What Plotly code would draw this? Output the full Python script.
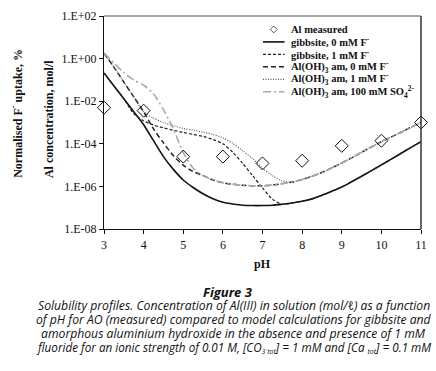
import plotly.graph_objects as go

# ---------------- data ----------------
ph_measured = [3, 4, 5, 6, 7, 8, 9, 10, 11]
al_measured = [5.0e-3, 3.6e-3, 2.5e-5, 2.5e-5, 1.2e-5, 1.6e-5, 8.0e-5, 1.4e-4, 1.0e-3]

ph_model = [3.00, 3.25, 3.50, 3.75, 4.00, 4.25, 4.50, 4.75, 5.00, 5.25, 5.50, 5.75,
            6.00, 6.25, 6.50, 6.75, 7.00, 7.25, 7.50, 7.75, 8.00, 8.25, 8.50, 8.75,
            9.00, 9.25, 9.50, 9.75, 10.00, 10.25, 10.50, 10.75, 11.00]

gibbsite_0mM_F = [2.1e-1, 5.2e-2, 1.3e-2, 3.2e-3, 7.9e-4, 1.4e-4, 2.5e-5, 6.3e-6, 2.0e-6, 8.9e-7,
                  4.5e-7, 2.6e-7, 1.8e-7, 1.5e-7, 1.3e-7, 1.26e-7, 1.26e-7, 1.3e-7, 1.45e-7, 1.66e-7,
                  2.0e-7, 2.6e-7, 3.8e-7, 5.9e-7, 9.3e-7, 1.66e-6, 3.0e-6, 5.5e-6, 1.02e-5, 1.9e-5,
                  3.6e-5, 6.8e-5, 1.26e-4]

gibbsite_1mM_F = [2.1e-1, 5.2e-2, 1.3e-2, 2.6e-3, 1.2e-3, 7.6e-4, 5.6e-4, 4.3e-4, 3.4e-4, 2.75e-4,
                  2.2e-4, 1.6e-4, 1.0e-4, 4.0e-5, 1.2e-5, 3.2e-6, 8.5e-7, 2.5e-7, 1.45e-7, 1.66e-7,
                  2.0e-7, 2.6e-7, 3.8e-7, 5.9e-7, 9.3e-7, 1.66e-6, 3.0e-6, 5.5e-6, 1.02e-5, 1.9e-5,
                  3.6e-5, 6.8e-5, 1.26e-4]

am_0mM_F = [1.8e0, 4.0e-1, 7.9e-2, 1.6e-2, 3.2e-3, 5.0e-4, 1.1e-4, 2.8e-5, 1.0e-5, 5.0e-6,
            3.2e-6, 2.0e-6, 1.5e-6, 1.26e-6, 1.12e-6, 1.07e-6, 1.07e-6, 1.17e-6, 1.35e-6, 1.6e-6,
            2.1e-6, 3.0e-6, 4.5e-6, 7.4e-6, 1.26e-5, 2.2e-5, 4.0e-5, 7.1e-5, 1.26e-4, 2.1e-4,
            3.5e-4, 6.0e-4, 1.0e-3]

am_1mM_F = [1.8e0, 4.0e-1, 7.9e-2, 1.6e-2, 3.2e-3, 1.6e-3, 1.0e-3, 7.1e-4, 5.2e-4, 4.4e-4,
            3.5e-4, 2.75e-4, 1.9e-4, 1.05e-4, 4.7e-5, 2.0e-5, 7.1e-6, 3.2e-6, 1.8e-6, 1.6e-6,
            2.1e-6, 3.0e-6, 4.5e-6, 7.4e-6, 1.26e-5, 2.2e-5, 4.0e-5, 7.1e-5, 1.26e-4, 2.1e-4,
            3.5e-4, 6.0e-4, 1.0e-3]

am_100mM_SO4 = [1.8e0, 6.3e-1, 2.2e-1, 1.0e-1, 5.6e-2, 2.2e-2, 4.0e-3, 5.0e-4, 4.0e-5, 7.1e-6,
                3.2e-6, 2.0e-6, 1.5e-6, 1.26e-6, 1.12e-6, 1.07e-6, 1.07e-6, 1.17e-6, 1.35e-6, 1.6e-6,
                2.1e-6, 3.0e-6, 4.5e-6, 7.4e-6, 1.26e-5, 2.2e-5, 4.0e-5, 7.1e-5, 1.26e-4, 2.1e-4,
                3.5e-4, 6.0e-4, 1.0e-3]

y_tickvals = [1e-8, 1e-6, 1e-4, 1e-2, 1e0, 1e2]
y_ticktext = ["1.E-08", "1.E-06", "1.E-04", "1.E-02", "1.E+00", "1.E+02"]
x_tickvals = [3, 4, 5, 6, 7, 8, 9, 10, 11]

legend_labels = [
    "Al measured",
    "gibbsite, 0 mM F<sup>-</sup>",
    "gibbsite, 1 mM F<sup>-</sup>",
    "Al(OH)<sub>3</sub> am, 0 mM F<sup>-</sup>",
    "Al(OH)<sub>3</sub> am, 1 mM F<sup>-</sup>",
    "Al(OH)<sub>3</sub> am, 100 mM SO<sub>4</sub><sup>2-</sup>",
]

SMALL = '<span style="font-size:7px">'
caption_title = "Figure 3"
caption_lines = [
    "Solubility profiles. Concentration of Al(III) in solution (mol/ℓ) as a function",
    "of pH for AO (measured) compared to model calculations for gibbsite and",
    "amorphous aluminium hydroxide in the absence and presence of 1 mM",
    "fluoride for an ionic strength of 0.01 M, [CO<sub>" + SMALL + "3 tot</span></sub>] = 1 mM "
    "and [Ca <sub>" + SMALL + "tot</span></sub>] = 0.1 mM",
]
caption_sizes = [12.2, 12.2, 12.2, 11.7]

# ---------------- figure ----------------
SERIF = "Liberation Serif"
CAP = "Open Sans"
W, H = 436, 371
L, R, T, B = 104, 427, 12, 229   # plot area in pixels


def px(xp):
    return (xp - L) / (R - L)


def py(yp):
    return (B - yp) / (B - T)


fig = go.Figure()

line_styles = [
    dict(color="#111111", width=1.6, dash="solid"),
    dict(color="#222222", width=1.2, dash="3px,2px"),
    dict(color="#222222", width=1.5, dash="5px,3px"),
    dict(color="#555555", width=1.2, dash="1px,1.5px"),
    dict(color="#aaaaaa", width=1.6, dash="8px,3px,2px,3px"),
]
series = [gibbsite_0mM_F, gibbsite_1mM_F, am_0mM_F, am_1mM_F, am_100mM_SO4]

for ys, ln in zip(series, line_styles):
    fig.add_trace(go.Scatter(x=ph_model, y=ys, mode="lines", showlegend=False,
                             line=dict(shape="spline", smoothing=0.8, **ln)))

fig.add_trace(go.Scatter(x=ph_measured, y=al_measured, mode="markers", showlegend=False,
                         marker=dict(symbol="diamond-open", size=10, color="#111111",
                                     line=dict(width=1)),
                         cliponaxis=False))

fig.update_layout(
    width=W, height=H,
    margin=dict(l=L, r=W - R, t=T, b=H - B, pad=0),
    paper_bgcolor="white", plot_bgcolor="white",
    font=dict(family=SERIF, size=12, color="#111111"),
    showlegend=False,
    xaxis=dict(range=[3, 11], tickvals=x_tickvals, ticks="outside", ticklen=4,
               tickcolor="#111111", showline=True, linecolor="#111111", linewidth=1.2,
               showgrid=False, zeroline=False, tickfont=dict(family=SERIF, size=12)),
    yaxis=dict(type="log", range=[-8, 2], tickvals=y_tickvals, ticktext=y_ticktext,
               ticks="outside", ticklen=4, tickcolor="#111111", showline=True,
               linecolor="#111111", linewidth=1.2, showgrid=False, zeroline=False,
               tickfont=dict(family=SERIF, size=12)),
)

# top (grey) and right (dark) frame lines
fig.add_shape(type="line", xref="paper", yref="paper", x0=0, x1=1, y0=1, y1=1,
              line=dict(color="#aaaaaa", width=2))
fig.add_shape(type="line", xref="paper", yref="paper", x0=1, x1=1, y0=0, y1=1,
              line=dict(color="#333333", width=1.5))

# ---- legend (drawn manually for compact row spacing) ----
row_y = [25.7, 38.4, 51.1, 63.8, 76.5, 89.2]
sym_x0, sym_x1, text_x = 266, 288, 292
cx, cy, d = 277, row_y[0], 3.5
fig.add_shape(type="path", xref="paper", yref="paper",
              path=f"M {px(cx)},{py(cy - d)} L {px(cx + d)},{py(cy)} L {px(cx)},{py(cy + d)} "
                   f"L {px(cx - d)},{py(cy)} Z",
              line=dict(color="#333333", width=0.8), fillcolor="white")
for k, ln in enumerate(line_styles):
    yy = py(row_y[k + 1])
    fig.add_shape(type="line", xref="paper", yref="paper", x0=px(sym_x0), x1=px(sym_x1),
                  y0=yy, y1=yy, line=ln)
for k, lab in enumerate(legend_labels):
    fig.add_annotation(text="<b>" + lab + "</b>", xref="paper", yref="paper",
                       x=px(text_x), y=py(row_y[k]), xanchor="left", yanchor="middle",
                       showarrow=False, font=dict(family=SERIF, size=10.5, color="#111111"))


def label(text, xp, yp, size, family, angle=0):
    fig.add_annotation(text=text, xref="paper", yref="paper", x=px(xp), y=py(yp),
                       xanchor="center", yanchor="middle", textangle=angle,
                       showarrow=False, font=dict(family=family, size=size, color="#111111"))


# axis titles
label("<b>pH</b>", 265, 265, 12, SERIF)
label("<b>Normalised F<sup>-</sup> uptake, %</b>", 15, 111, 12, SERIF, -90)
label("<b>Al concentration, mol/l</b>", 48, 117, 12, SERIF, -90)

# caption
label("<b><i>" + caption_title + "</i></b>", 230, 293, 13, CAP)
for k, t in enumerate(caption_lines):
    label("<i>" + t + "</i>", 236, 307 + 14.2 * k, caption_sizes[k], CAP)

fig.write_html("out.html", config={"displayModeBar": False},
               post_script="document.body.style.margin='0';")
